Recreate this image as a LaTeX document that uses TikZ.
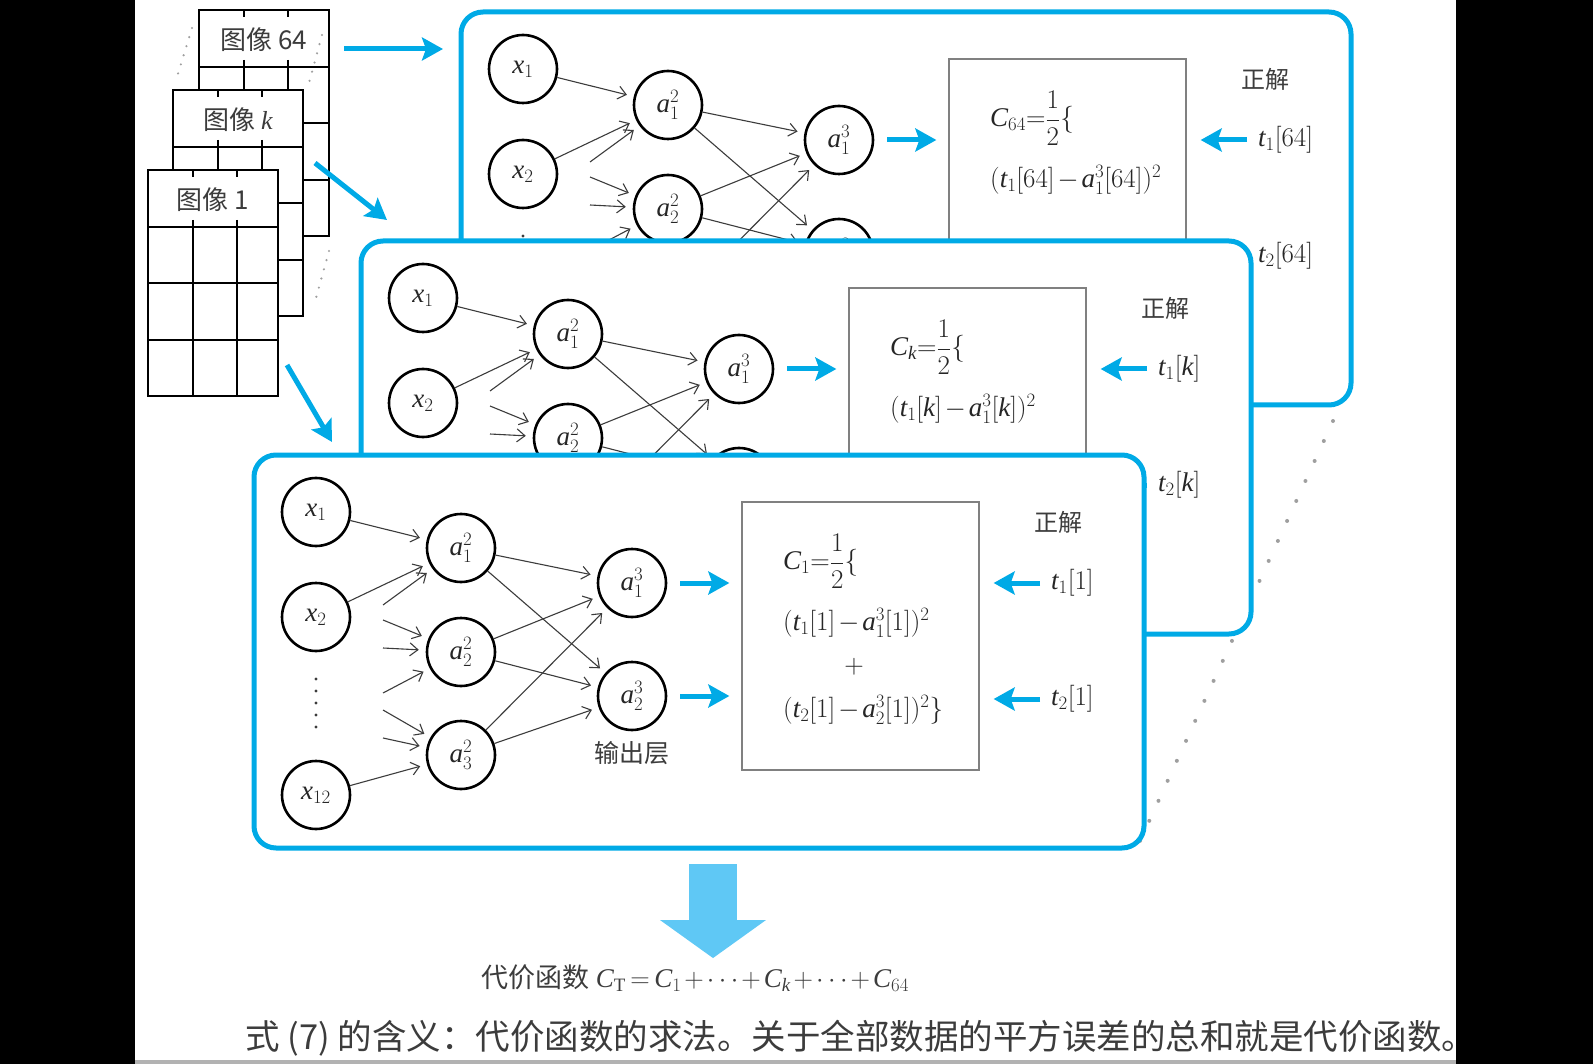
\RequirePackage{fix-cm}
\documentclass[tikz,border=0pt]{standalone}
\usepackage{fontspec}
\setmainfont{Liberation Serif}
\newfontfamily\cjk{Noto Sans CJK SC}
% Latin letters and digits of the formulas in the text serif
\DeclareSymbolFont{letters}{TU}{\rmdefault}{m}{it}
\DeclareSymbolFont{operators}{TU}{\rmdefault}{m}{n}
\medmuskip=2mu
\thickmuskip=3mu
\usetikzlibrary{arrows.meta, positioning, calc}
\definecolor{NNblue}{RGB}{0,170,230}
\definecolor{NNsky}{RGB}{95,200,245}
\definecolor{NNgray}{RGB}{60,60,60}

% one data panel: #1 name prefix, #2 top left corner, #3 data index, #4 1 = lower lines shown
\newcommand{\costpanel}[4]{%
  \begin{scope}[shift={#2}, name prefix=#1-]
    \node[framebox, anchor=north west] (frame) at (0,0) {};
    % input layer
    \node[neuron] (x1) at (62,57) {$x_1$};
    \node[neuron] (x2) at (62,162) {$x_2$};
    \node[neuron] (x12) at (62,340) {$x_{12}$};
    \foreach \d in {0,...,4} \fill[NNgray] (62,{224+12*\d}) circle (1.7pt);
    % hidden layer
    \node[neuron] (a21) at (207,93) {$a^2_1$};
    \node[neuron] (a22) at (207,197) {$a^2_2$};
    \node[neuron] (a23) at (207,300) {$a^2_3$};
    % output layer
    \node[neuron] (a31) at (378,128) {$a^3_1$};
    \node[neuron] (a32) at (378,241) {$a^3_2$};
    \node[cjklabel, font=\cjk\fontsize{25}{28}\selectfont] (outlab) at (378,298) {输出层};
    \foreach \n/\y in {1/150, 2/165, 3/193, 4/238, 5/255, 6/283}
      \coordinate (s\n) at (129,\y);
    \foreach \s/\t in {x1/a21, x2/a21, s1/a21, s2/a22, s3/a22, s4/a22, s5/a23, s6/a23, x12/a23}
      \draw[syn] (\s) -- (\t);
    \foreach \h in {a21,a22,a23} \foreach \o in {a31,a32}
      \draw[syn] (\h) -- (\o);
    % squared error
    \node[costbox] (cost) at (606.5,181) {};
    \node[mathtext, anchor=west] (c1) at (529,106) {$\displaystyle C_{#3}\!=\!\frac{1}{2}\{$};
    \node[mathtext, anchor=west] (c2) at (529,168) {$(t_1[#3]-a^3_1[#3])^2$};
    \ifnum#4=1
      \node[mathtext] (c3) at (600,212) {$+$};
      \node[mathtext, anchor=west] (c4) at (529,255) {$(t_2[#3]-a^3_2[#3])^2\}$};
    \fi
    \draw[flow, shorten <=13pt, shorten >=12pt] (a31) -- (a31 -| cost.west);
    \draw[flow, shorten <=13pt, shorten >=12pt] (a32) -- (a32 -| cost.west);
    % correct answers
    \node[cjklabel] (ans) at (804,67) {正解};
    \node[mathtext, anchor=west] (t1) at (797,128) {$t_1[#3]$};
    \node[mathtext, anchor=west] (t2) at (797,244) {$t_2[#3]$};
    \draw[flow, shorten <=11pt, shorten >=14pt] (t1) -- (t1 -| cost.east);
    \draw[flow, shorten <=11pt, shorten >=14pt] (t2) -- (t2 -| cost.east);
  \end{scope}}

% one image sheet: #1 name, #2 top left corner, #3 index
\newcommand{\imgsheet}[3]{%
  \begin{scope}[shift={#2}]
    \node[sheetbox] (#1) at (0,0) {};
    \draw[sheetline] (0,57) -- (130,57) (0,113) -- (130,113) (0,170) -- (130,170);
    \draw[sheetline] (45,57) -- (45,226) (89,57) -- (89,226);
    \draw[sheetline] (45,0) -- (45,7) (89,0) -- (89,7) (45,50) -- (45,57) (89,50) -- (89,57);
    \node[cjklabel, font=\cjk\fontsize{26}{30}\selectfont] (#1lab) at (65,30) {图像 #3};
  \end{scope}}

\begin{document}
\begin{tikzpicture}[x=1pt, y=-1pt,
  neuron/.style={circle, draw=black, line width=2.6pt, minimum size=68pt, inner sep=0pt,
    font=\fontsize{27}{30}\selectfont, text=black!85},
  syn/.style={draw=NNgray, line width=1.1pt, -{Straight Barb[length=8pt,width=13pt]}, shorten >=7pt},
  flow/.style={draw=NNblue, line width=5pt, -{Stealth[length=21pt,width=23pt,inset=4pt]}},
  framebox/.style={draw=NNblue, line width=5pt, fill=white, rounded corners=22pt,
    minimum width=890pt, minimum height=393pt, inner sep=0pt, outer sep=0pt},
  costbox/.style={draw=gray, line width=1.3pt, minimum width=237pt, minimum height=268pt, inner sep=0pt},
  mathtext/.style={font=\fontsize{27}{30}\selectfont, text=black!85, inner sep=0pt},
  cjklabel/.style={font=\cjk\fontsize{24}{28}\selectfont, text=NNgray},
  sheetbox/.style={draw=black, line width=2pt, fill=white, minimum width=130pt, minimum height=226pt,
    inner sep=0pt, outer sep=0pt, anchor=north west},
  sheetline/.style={draw=black, line width=2pt},
  dotline/.style={draw=gray!75, line width=4pt, line cap=round, dash pattern=on 0pt off 22pt},
  smalldots/.style={draw=gray!75, line width=2.4pt, line cap=round, dash pattern=on 0pt off 9.5pt},
  bigflow/.style={draw=NNsky, line width=48pt, -{Triangle[length=38pt,width=104pt]}}
]
\useasboundingbox (0,0) rectangle (1593,1064);
\fill[black] (0,0) rectangle (135,1064);
\fill[black] (1456,0) rectangle (1593,1064);
\fill[gray!60] (135,1060) rectangle (1456,1064);

% image sheets
\imgsheet{s64}{(199,10)}{64}
\draw[smalldots] ($(s64.north west)+(-7,18)$) -- ($(s64.north west)+(-22,67)$);
\draw[smalldots] ($(s64.north east)+(-7,25)$) -- ($(s64.north east)+(-20,73)$);
\draw[smalldots] ($(s64.south east)+(0,15)$) -- ($(s64.south east)+(-13,62)$);
\imgsheet{sk}{(173,90)}{$k$}
\imgsheet{s1}{(148,170)}{1}

% data panels, back to front
\costpanel{p64}{(461,12)}{64}{0}
\draw[dotline] ($(p64-frame.south east)+(-18,16)$) -- ($(p64-frame.south east)+(-211,436)$);
\costpanel{pk}{(361,241)}{k}{0}
\costpanel{p1}{(254,455)}{1}{1}

% images into the network
\draw[flow, shorten <=15pt, shorten >=18pt] ($(s64.north east)+(0,39)$) -- ($(p64-frame.west |- s64.north east)+(0,39)$);
\draw[flow] ($(sk.north east)+(12,73)$) -- ($(pk-frame.north west)+(26,-21)$);
\draw[flow] ($(s1.south east)+(9,-31)$) -- ($(p1-frame.north west)+(78,-13)$);

% total cost
\node[font=\fontsize{27}{30}\selectfont, text=NNgray] (total) at (695,978)
  {{\cjk 代价函数} $C_{\mathrm{T}}=C_1+\cdots+C_k+\cdots+C_{64}$};
\draw[bigflow, shorten <=16pt, shorten >=3pt] ([xshift=14pt]p1-frame.south) -- ([xshift=14pt]p1-frame.south |- total.north);
\node[anchor=west, inner sep=0pt, font=\cjk\fontsize{34.5}{38}\selectfont, text=NNgray] (cap) at (245,1038)
  {式 (7) 的含义：代价函数的求法。关于全部数据的平方误差的总和就是代价函数。};
\end{tikzpicture}
\end{document}
